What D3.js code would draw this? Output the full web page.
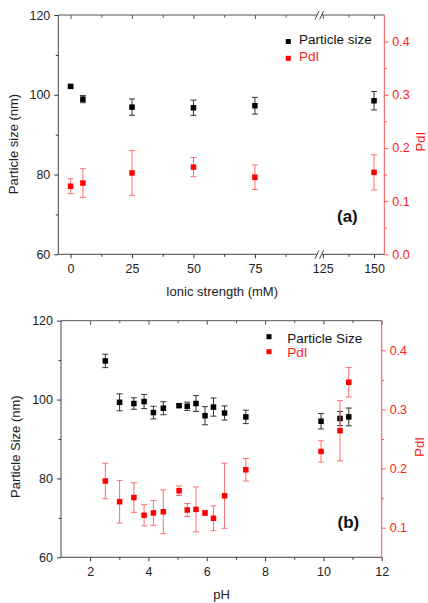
<!DOCTYPE html>
<html><head><meta charset="utf-8">
<script src="https://cdn.jsdelivr.net/npm/d3@7"></script>
<style>
html,body{margin:0;padding:0;background:#fff;}
svg{display:block;font-family:"Liberation Sans",Arial,sans-serif;}
</style></head>
<body>
<script>
// ---------- Data ----------
// Panel (a): ionic strength
const ionic = [0, 5, 25, 50, 75, 150];
const sizeA = [102.1, 98.9, 96.9, 96.75, 97.25, 98.5];
const sizeAErr = [0.35, 0.9, 2.05, 1.9, 2.1, 2.3];
const pdiA = [0.128, 0.134, 0.153, 0.164, 0.145, 0.154];
const pdiAErr = [0.014, 0.027, 0.042, 0.018, 0.023, 0.033];
const ionicMajor = [0, 25, 50, 75, 125, 150];
const ionicMinor = [12.5, 37.5, 62.5, 87.5, 137.5];

// Panel (b): pH
const pH = [2.52, 3.01, 3.5, 3.85, 4.17, 4.51, 5.05, 5.33, 5.63, 5.94, 6.23, 6.61, 7.34, 9.92, 10.57, 10.87];
const sizeB = [109.8, 99.3, 99.0, 99.5, 96.7, 97.8, 98.45, 98.3, 99.0, 95.9, 98.1, 96.6, 95.6, 94.5, 95.2, 95.6];
const sizeBErr = [1.7, 2.15, 1.45, 1.8, 1.6, 1.65, 0.3, 1.05, 2.0, 2.3, 2.3, 1.8, 1.7, 1.95, 1.8, 2.25];
const pdiB = [0.179, 0.144, 0.151, 0.121, 0.125, 0.127, 0.1625, 0.130, 0.131, 0.125, 0.116, 0.154, 0.198, 0.229, 0.264, 0.346];
const pdiBErr = [0.030, 0.036, 0.025, 0.018, 0.021, 0.037, 0.008, 0.011, 0.038, 0.004, 0.021, 0.055, 0.019, 0.018, 0.051, 0.025];
const pHMajor = [2, 4, 6, 8, 10, 12];
const pHMinor = [3, 5, 7, 9, 11];

const sizeMajor = [60, 80, 100, 120];
const sizeMinor = [70, 90, 110];
const pdiMajorA = [0.0, 0.1, 0.2, 0.3, 0.4];
const pdiMinorA = [0.05, 0.15, 0.25, 0.35];
const pdiMajorB = [0.1, 0.2, 0.3, 0.4];
const pdiMinorB = [0.15, 0.25, 0.35];

// ---------- Drawing ----------
const BLACK = "#333";
const RED = "#ff1a1a";
const REDLINE = "#ff5050";
const REDERR = "#ff6e6e";

const svg = d3.select("body").append("svg").attr("width", 428).attr("height", 603);

function panel(o) {
  const g = svg.append("g");
  const {L, R, T, B} = o;
  const x = o.x;
  const yL = d3.scaleLinear().domain([60, 120]).range([B, T]);
  const yR = d3.scaleLinear().domain(o.pdiDomain).range([B, T]);

  // frame lines
  const line = (x1, y1, x2, y2, c) => g.append("line").attr("x1", x1).attr("y1", y1).attr("x2", x2).attr("y2", y2)
      .attr("stroke", c).attr("stroke-width", 1);
  line(L, T, R, T, "#555");
  line(L, B, R, B, "#444");
  line(L, T, L, B, "#444");

  function ax(axisFn, scale, vals, size, pad, fmt, tr, color, fs) {
    const a = g.append("g").attr("transform", tr)
      .call(axisFn(scale).tickValues(vals).tickSize(size).tickPadding(pad).tickFormat(fmt));
    a.select(".domain").remove();
    a.selectAll("line").attr("stroke", color);
    a.selectAll("text").attr("fill", color === BLACK ? "#222" : RED)
      .style("font-size", fs + "px").style("font-family", '"Liberation Sans",Arial,sans-serif');
    return a;
  }
  const none = () => "";
  // bottom axis
  ax(d3.axisBottom, x, o.xMajor, 4, 6, d3.format("d"), `translate(0,${B})`, BLACK, 12.5);
  ax(d3.axisBottom, x, o.xMinor, 2.5, 0, none, `translate(0,${B})`, BLACK, 12);
  // top mirror ticks (inward)
  ax(d3.axisBottom, x, o.xMajor, 4, 0, none, `translate(0,${T})`, "#555", 12);
  ax(d3.axisBottom, x, o.xMinor, 2.5, 0, none, `translate(0,${T})`, "#555", 12);
  // left axis
  ax(d3.axisLeft, yL, sizeMajor, 4, 4, d3.format("d"), `translate(${L},0)`, BLACK, 12.5);
  ax(d3.axisLeft, yL, sizeMinor, 2.5, 0, none, `translate(${L},0)`, BLACK, 12);
  // right axis (red)
  line(R, T, R, B, REDLINE);
  ax(d3.axisRight, yR, o.pdiMajor, 4, 4, d3.format(".1f"), `translate(${R},0)`, REDLINE, 12.5);
  ax(d3.axisRight, yR, o.pdiMinor, 2.5, 0, none, `translate(${R},0)`, REDLINE, 12);

  // axis break
  if (o.breakAt) {
    const bx = x(o.breakAt);
    [T, B].forEach(yy => {
      g.append("rect").attr("x", bx - 2.2).attr("y", yy - 1.5).attr("width", 4.4).attr("height", 3).attr("fill", "#fff");
      [-2.3, 2.3].forEach(dx => {
        g.append("line").attr("x1", bx + dx - 2).attr("y1", yy + 4.5).attr("x2", bx + dx + 2).attr("y2", yy - 4)
          .attr("stroke", "#444").attr("stroke-width", 1);
      });
    });
  }

  // error bars + markers
  function series(xs, ys, es, ys2, color, ecolor, ms) {
    const s = g.append("g");
    xs.forEach((xv, i) => {
      const cx = x(xv);
      const y1 = ys2(ys[i] - es[i]), y2 = ys2(ys[i] + es[i]);
      s.append("line").attr("x1", cx).attr("x2", cx).attr("y1", y1).attr("y2", y2).attr("stroke", ecolor).attr("stroke-width", 1);
      [y1, y2].forEach(yy => s.append("line").attr("x1", cx - 3).attr("x2", cx + 3).attr("y1", yy).attr("y2", yy)
        .attr("stroke", ecolor).attr("stroke-width", 1));
    });
    s.selectAll("rect.m").data(xs).enter().append("rect")
      .attr("x", (d) => x(d) - ms / 2).attr("y", (d, i) => ys2(ys[i]) - ms / 2)
      .attr("width", ms).attr("height", ms).attr("fill", color);
  }
  series(o.xs, o.size, o.sizeErr, yL, "#000", BLACK, o.ms);
  series(o.xs, o.pdi, o.pdiErr, yR, "#ff0000", REDERR, o.ms);

  // axis titles
  g.append("text").attr("transform", `translate(${o.lt[0]},${o.lt[1]}) rotate(-90)`).attr("text-anchor", "middle")
    .style("font-size", "13px").attr("fill", "#222").text(o.leftTitle);
  g.append("text").attr("transform", `translate(${o.rt[0]},${o.rt[1]}) rotate(-90)`).attr("text-anchor", "middle")
    .style("font-size", "13px").attr("fill", RED).text("PdI");
  g.append("text").attr("x", o.bt[0]).attr("y", o.bt[1]).attr("text-anchor", "middle")
    .style("font-size", "13px").attr("fill", "#222").text(o.bottomTitle);

  // legend
  const lg = g.append("g");
  lg.append("rect").attr("x", o.leg[0] - 2.5).attr("y", o.leg[1] - 2.5).attr("width", 5).attr("height", 5).attr("fill", "#000");
  lg.append("text").attr("x", o.leg[2]).attr("y", o.leg[3]).style("font-size", "13.5px").attr("fill", "#111").text(o.legText);
  lg.append("rect").attr("x", o.leg[0] - 2.5).attr("y", o.leg[4] - 2.5).attr("width", 5).attr("height", 5).attr("fill", "#ff0000");
  lg.append("text").attr("x", o.leg[2]).attr("y", o.leg[5]).style("font-size", "13.5px").attr("fill", RED).text("PdI");

  // panel label
  g.append("text").attr("x", o.lab[0]).attr("y", o.lab[1]).style("font-size", "17px").style("font-weight", "bold")
    .attr("fill", "#111").text(o.label);
}

// Panel (a)
panel({
  L: 58.3, R: 384.3, T: 15, B: 254.3,
  x: d3.scaleLinear().domain([-5, 101.2, 123.3, 155]).range([58.3, 319.3, 319.3, 384.3]),
  breakAt: 101.2,
  xMajor: ionicMajor, xMinor: ionicMinor,
  pdiDomain: [0, 0.45], pdiMajor: pdiMajorA, pdiMinor: pdiMinorA,
  xs: ionic, size: sizeA, sizeErr: sizeAErr, pdi: pdiA, pdiErr: pdiAErr, ms: 5.5,
  leftTitle: "Particle size (nm)", lt: [18, 144],
  rt: [425, 141.7],
  bottomTitle: "Ionic strength (mM)", bt: [222, 296],
  leg: [288.3, 41.5, 299, 43.5, 58.3, 60.5], legText: "Particle size",
  label: "(a)", lab: [337, 222]
});

// Panel (b)
panel({
  L: 61, R: 381.7, T: 320.7, B: 557.3,
  x: d3.scaleLinear().domain([1, 12]).range([61, 381.7]),
  xMajor: pHMajor, xMinor: pHMinor,
  pdiDomain: [0.05, 0.45], pdiMajor: pdiMajorB, pdiMinor: pdiMinorB,
  xs: pH, size: sizeB, sizeErr: sizeBErr, pdi: pdiB, pdiErr: pdiBErr, ms: 5.5,
  leftTitle: "Particle Size (nm)", lt: [20, 446.7],
  rt: [424, 447],
  bottomTitle: "pH", bt: [221.5, 599.3],
  leg: [269, 336.7, 287.3, 342.5, 351.7, 357], legText: "Particle Size",
  label: "(b)", lab: [337.5, 527.5]
});
</script>
</body></html>
